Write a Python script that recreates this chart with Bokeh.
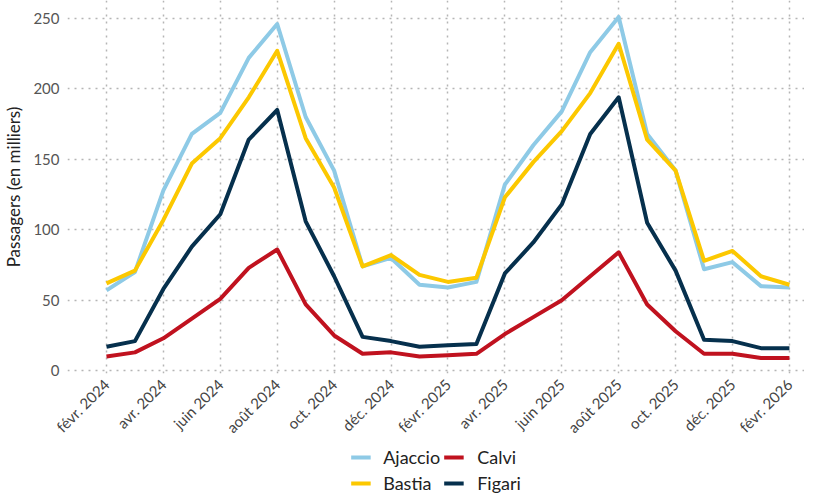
from math import pi
from bokeh.plotting import figure
from bokeh.layouts import column
from bokeh.models import Legend, LegendItem, FixedTicker, Range1d
from bokeh.embed import file_html
from bokeh.resources import INLINE

months = list(range(25))
tick_pos = list(range(0, 25, 2))
tick_labels = ["févr. 2024", "avr. 2024", "juin 2024", "août 2024", "oct. 2024", "déc. 2024",
               "févr. 2025", "avr. 2025", "juin 2025", "août 2025", "oct. 2025", "déc. 2025",
               "févr. 2026"]
y_ticks = [0, 50, 100, 150, 200, 250]

ajaccio = [57, 70, 128, 168, 183, 222, 246, 180, 142, 74, 80, 61, 59,
           63, 132, 160, 184, 226, 251, 168, 142, 72, 77, 60, 59]
bastia = [62, 71, 107, 147, 165, 194, 227, 165, 130, 74, 82, 68, 63,
          66, 123, 148, 170, 197, 232, 164, 142, 78, 85, 67, 61]
calvi = [10, 13, 23, 37, 51, 73, 86, 47, 25, 12, 13, 10, 11,
         12, 26, 38, 50, 67, 84, 47, 28, 12, 12, 9, 9]
figari = [17, 21, 58, 88, 111, 164, 185, 106, 67, 24, 21, 17, 18,
          19, 69, 91, 118, 168, 194, 105, 71, 22, 21, 16, 16]

series = [("Ajaccio", ajaccio, "#8ECAE6"),
          ("Bastia", bastia, "#FCC800"),
          ("Calvi", calvi, "#C0121F"),
          ("Figari", figari, "#06304D")]

FONT = "Lato"

p = figure(width=804, height=445, output_backend="svg", toolbar_location=None,
           x_range=Range1d(-1.37, 24.53), y_range=Range1d(-2.0, 262.7),
           min_border_left=62, min_border_right=0, min_border_top=0, min_border_bottom=0)
p.outline_line_color = None
p.background_fill_color = "white"

for name, vals, col in series:
    p.line(months, vals, line_color=col, line_width=4, line_join="round")

p.xaxis.ticker = FixedTicker(ticks=tick_pos)
p.xaxis.major_label_overrides = {t: l for t, l in zip(tick_pos, tick_labels)}
p.xaxis.major_label_orientation = pi / 4
p.yaxis.ticker = FixedTicker(ticks=y_ticks)
for ax in (p.xaxis[0], p.yaxis[0]):
    ax.axis_line_color = None
    ax.major_tick_line_color = None
    ax.minor_tick_line_color = None
    ax.major_tick_out = 0
    ax.major_tick_in = 0
    ax.minor_tick_out = 0
    ax.minor_tick_in = 0
    ax.major_label_text_font = FONT
    ax.major_label_text_font_size = "15px"
    ax.major_label_text_color = "#555555"
p.xaxis.major_label_text_color = "#444444"
p.yaxis.major_label_standoff = 8
p.xaxis.major_label_standoff = 8
p.yaxis.axis_label = "Passagers (en milliers)"
p.yaxis.axis_label_text_font = FONT
p.yaxis.axis_label_text_font_style = "normal"
p.yaxis.axis_label_text_font_size = "17px"
p.yaxis.axis_label_text_color = "#222222"
p.yaxis.axis_label_standoff = 6

for g in (p.xgrid[0], p.ygrid[0]):
    g.grid_line_color = "#b5b5b5"
    g.grid_line_dash = "2 5"
    g.grid_line_width = 1.5

# legend in its own strip below the chart
lg = figure(width=804, height=50, output_backend="svg", toolbar_location=None,
            x_range=Range1d(100, 101), y_range=Range1d(1000, 1001),
            min_border_left=0, min_border_right=0, min_border_top=0, min_border_bottom=0)
lg.axis.visible = False
lg.grid.visible = False
lg.outline_line_color = None
leg_r = {}
for name, vals, col in series:
    # outside the visible range: only the legend swatch is seen
    leg_r[name] = lg.line(months, vals, line_color=col, line_width=4)

order = ["Ajaccio", "Calvi", "Bastia", "Figari"]
items = [LegendItem(label=n, renderers=[leg_r[n]]) for n in order]
legend = Legend(items=items, orientation="horizontal", ncols=2, location="center",
                label_text_font=FONT, label_text_font_size="18px", label_text_color="#222222",
                glyph_width=20, glyph_height=18, label_height=18, spacing=4, label_standoff=13,
                border_line_color=None, background_fill_alpha=0, padding=0, margin=0)
lg.add_layout(legend, "center")

layout = column(p, lg, spacing=0)
open("out.html", "w").write(file_html(layout, INLINE))
